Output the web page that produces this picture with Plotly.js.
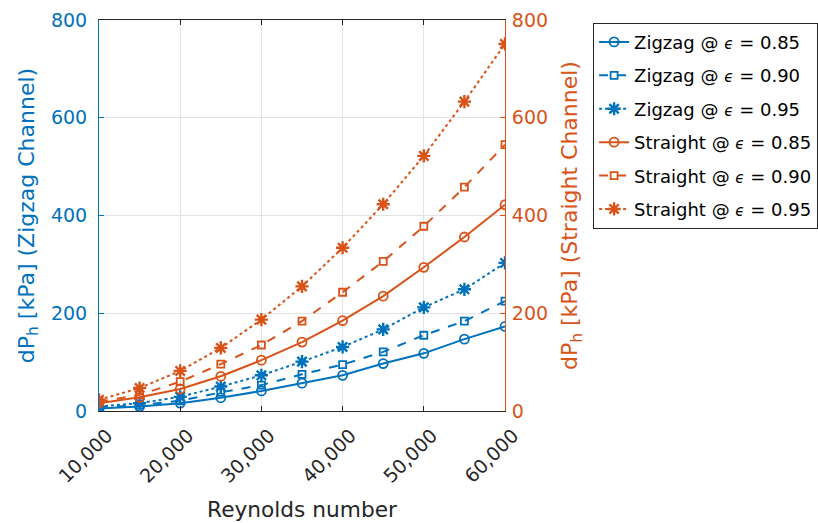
<!DOCTYPE html>
<html>
<head>
<meta charset="utf-8">
<script src="https://cdn.plot.ly/plotly-3.0.1.min.js"></script>
<style>html,body{margin:0;padding:0;background:#fff;overflow:hidden;}#chart{width:818px;height:523px;}</style>
</head>
<body>
<div id="chart"></div>
<script>
// Reynolds numbers (x)
const reynolds = [10000, 15000, 20000, 25000, 30000, 35000, 40000, 45000, 50000, 55000, 60000];
// Zigzag channel dPh [kPa] (left axis)
const zigzag085 = [5, 9, 16, 27, 41, 57, 73, 97, 118, 147, 173];
const zigzag090 = [7, 12, 21, 38, 53, 75, 95, 121, 155, 184, 225];
const zigzag095 = [9, 16, 29, 50, 73, 101, 131, 167, 212, 249, 303];
// Straight channel dPh [kPa] (right axis)
const straight085 = [16, 28, 45, 71, 104, 141, 185, 235, 294, 356, 422];
const straight090 = [19, 33, 60, 96, 135, 184, 243, 306, 378, 458, 545];
const straight095 = [23, 47, 82, 129, 187, 255, 334, 423, 522, 633, 751];
const EPS = '<span style="font-size:15px"><i>ϵ</i></span>';
const names = [
  'Zigzag @ ' + EPS + ' = 0.85', 'Zigzag @ ' + EPS + ' = 0.90', 'Zigzag @ ' + EPS + ' = 0.95',
  'Straight @ ' + EPS + ' = 0.85', 'Straight @ ' + EPS + ' = 0.90', 'Straight @ ' + EPS + ' = 0.95'
];

const BLUE = '#0072BD', ORANGE = '#D95319', DARK = '#262626';
const FONT = 'DejaVu Sans';

function mk(y, name, color, dash, symbol, msize, axis, grp) {
  return {
    x: reynolds, y: y, name: name, type: 'scatter', mode: 'lines+markers',
    yaxis: axis, legendgroup: grp,
    line: {color: color, width: 2, dash: dash},
    marker: {symbol: symbol, size: msize, color: color,
             line: {color: color, width: symbol.startsWith('asterisk') ? 2.4 : 1.8}}
  };
}

const data = [
  mk(zigzag085, names[0], BLUE, 'solid', 'circle-open', 9, 'y', 'a'),
  mk(zigzag090, names[1], BLUE, 'dash', 'square-open', 7, 'y', 'b'),
  mk(zigzag095, names[2], BLUE, 'dot', 'asterisk-open', 11, 'y', 'c'),
  mk(straight085, names[3], ORANGE, 'solid', 'circle-open', 9, 'y2', 'd'),
  mk(straight090, names[4], ORANGE, 'dash', 'square-open', 7, 'y2', 'e'),
  mk(straight095, names[5], ORANGE, 'dot', 'asterisk-open', 11, 'y2', 'f')
];

const layout = {
  width: 818, height: 523,
  margin: {l: 99, r: 313, t: 20, b: 112, autoexpand: false},
  paper_bgcolor: '#fff', plot_bgcolor: '#fff',
  font: {family: FONT, size: 19, color: DARK},
  showlegend: true,
  legend: {
    x: 1.217, y: 0.993, xanchor: 'left', yanchor: 'top',
    bordercolor: DARK, borderwidth: 1, bgcolor: '#fff',
    font: {family: FONT, size: 18, color: '#000'},
    tracegroupgap: 7
  },
  xaxis: {
    automargin: false,
    range: [10000, 60000], dtick: 10000, tick0: 10000,
    tickformat: ',', tickangle: -45,
    ticklabelshift: 8, ticklabelstandoff: 5,
    showgrid: true, gridcolor: '#e3e3e3', zeroline: false,
    showline: true, linecolor: DARK, linewidth: 1, mirror: 'ticks',
    ticks: 'inside', ticklen: 5, tickcolor: DARK,
    tickfont: {family: FONT, size: 19, color: DARK},
    title: {text: 'Reynolds number', font: {family: FONT, size: 21.7, color: DARK}, standoff: 15}
  },
  yaxis: {
    automargin: false,
    range: [0, 800], dtick: 200,
    ticklabelstandoff: 7,
    showgrid: true, gridcolor: '#e3e3e3', zeroline: false,
    showline: true, linecolor: BLUE, linewidth: 1,
    ticks: 'inside', ticklen: 5, tickcolor: BLUE,
    tickfont: {family: FONT, size: 19, color: BLUE},
    title: {text: 'dP<sub>h</sub> [kPa] (Zigzag Channel)', font: {family: FONT, size: 22, color: BLUE}, standoff: 10}
  },
  yaxis2: {
    automargin: false,
    range: [0, 800], dtick: 200, overlaying: 'y', side: 'right',
    ticklabelstandoff: 2,
    showgrid: false, zeroline: false,
    showline: true, linecolor: ORANGE, linewidth: 1,
    ticks: 'inside', ticklen: 5, tickcolor: ORANGE,
    tickfont: {family: FONT, size: 19, color: ORANGE},
    title: {text: 'dP<sub>h</sub> [kPa] (Straight Channel)', font: {family: FONT, size: 22, color: ORANGE}, standoff: 14}
  }
};

Plotly.newPlot('chart', data, layout, {displayModeBar: false, staticPlot: true});
</script>
</body>
</html>
